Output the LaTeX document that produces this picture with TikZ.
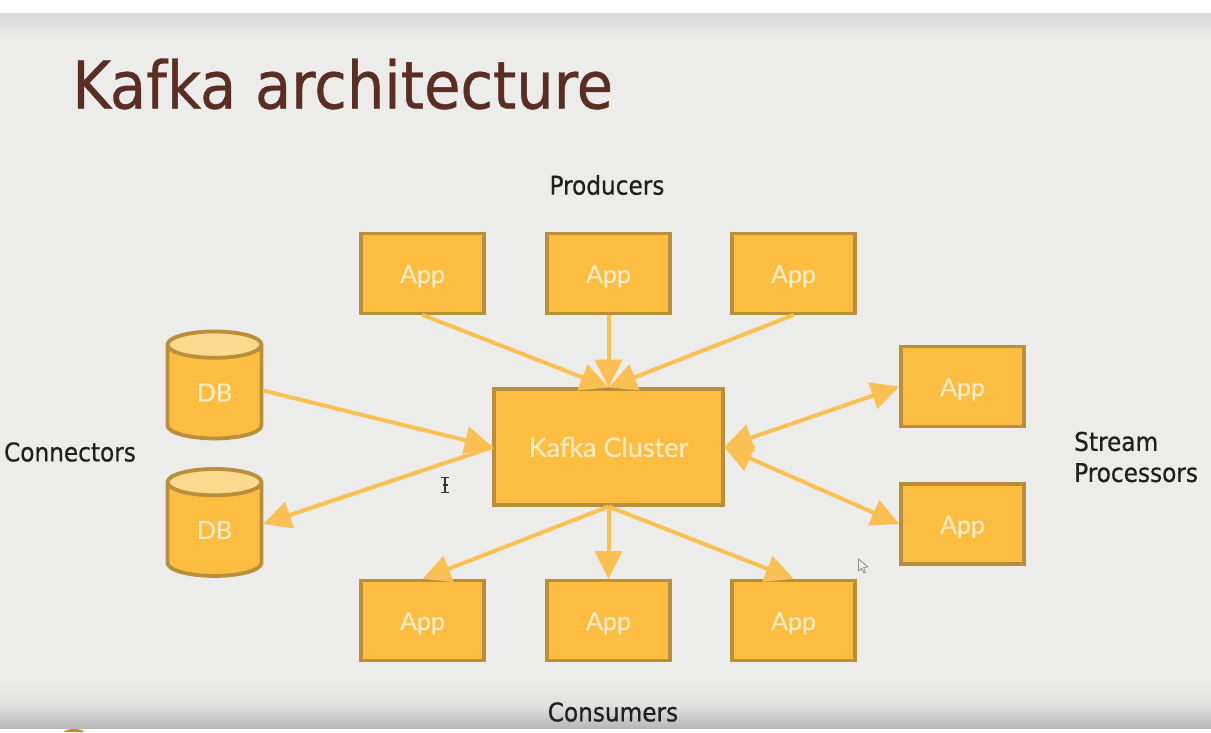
\documentclass[tikz,border=0pt]{standalone}
\usepackage{fontspec}
\setmainfont[FakeBold=0.6]{DejaVu Sans Condensed}
\newfontfamily\boxfont[FakeBold=0.6]{Lato}
\usetikzlibrary{arrows.meta,shapes.geometric}
\definecolor{bgc}{HTML}{ECECEA}
\definecolor{boxfill}{HTML}{FDBD41}
\definecolor{boxline}{HTML}{B98F3B}
\definecolor{arrowc}{HTML}{FAC052}
\definecolor{boxtext}{HTML}{FBEBC4}
\definecolor{topfill}{HTML}{FCD98C}
\definecolor{titlec}{HTML}{5A2E22}
\tikzset{
  appbox/.style={draw=boxline,fill=boxfill,line width=3.8pt,minimum width=123.5pt,minimum height=80pt,outer sep=1.5pt,inner sep=0pt,text=boxtext,font=\boxfont\fontsize{25}{28}\selectfont},
  clusterbox/.style={appbox,minimum width=228.5pt,minimum height=116pt,font=\boxfont\fontsize{27}{30}\selectfont},
  dbnode/.style={cylinder,shape border rotate=90,aspect=0.75,draw=boxline,line width=3.8pt,cylinder uses custom fill,cylinder body fill=boxfill,cylinder end fill=topfill,minimum width=94pt,minimum height=107pt,outer sep=1.5pt,inner sep=0pt,text=boxtext,font=\boxfont\fontsize{25}{28}\selectfont},
  lbl/.style={text=black!88,font=\fontsize{25.8}{31}\selectfont,inner sep=0pt},
  flow/.style={draw=arrowc,line width=4pt,-{Triangle[length=28pt,width=27pt]}},
  flowboth/.style={draw=arrowc,line width=4pt,{Triangle[length=28pt,width=27pt]}-{Triangle[length=28pt,width=27pt]}}
}
\newcommand{\lowtext}[1]{\raisebox{-9.5pt}[0pt][0pt]{#1}}
\begin{document}
\begin{tikzpicture}[x=1pt,y=-1pt]
\useasboundingbox (0,0) rectangle (1211,732);
\fill[white] (0,0) rectangle (1211,732);
\fill[top color=black!15,bottom color=bgc] (0,13) rectangle (1211,38);
\fill[bgc] (0,38) rectangle (1211,680);
\fill[top color=bgc,bottom color=black!12] (0,680) rectangle (1211,706);
\fill[top color=black!12,bottom color=black!28] (0,706) rectangle (1211,728);
\fill[boxline] (64,732) arc[start angle=180,end angle=0,x radius=10pt,y radius=3pt] -- cycle;

\node[anchor=west,inner sep=0pt,text=titlec,font=\fontsize{65.8}{70}\selectfont] (title) at (72,84) {Kafka architecture};

\node[lbl] (producers) at (607,185) {Producers};
\node[lbl] (connectors) at (70,452) {Connectors};
\node[lbl] (consumers) at (613,712) {Consumers};
\node[lbl,anchor=west,align=left] (stream) at (1074,457) {Stream\\Processors};

\node[appbox] (p1) at (422.5,273.5) {\lowtext{App}};
\node[appbox] (p2) at (608.5,273.5) {\lowtext{App}};
\node[appbox] (p3) at (793.5,273.5) {\lowtext{App}};
\node[appbox] (c1) at (422.5,620.5) {\lowtext{App}};
\node[appbox] (c2) at (608.5,620.5) {\lowtext{App}};
\node[appbox] (c3) at (793.5,620.5) {\lowtext{App}};
\node[appbox] (s1) at (962.5,386.5) {\lowtext{App}};
\node[appbox] (s2) at (962.5,524) {\lowtext{App}};
\node[clusterbox] (kafka) at (608.5,447) {Kafka Cluster};
\node[dbnode] (db1) at (214.5,392.5) {DB};
\node[dbnode] (db2) at (214.5,530) {DB};
\coordinate (db1out) at ([yshift=2pt]db1.east);
\coordinate (db2in) at ([yshift=6pt]db2.east);

\draw[flow] (p1.south) -- (kafka.north);
\draw[flow] (p2.south) -- (kafka.north);
\draw[flow] (p3.south) -- (kafka.north);
\draw[flow] (kafka.south) -- (c1.north);
\draw[flow] (kafka.south) -- (c2.north);
\draw[flow] (kafka.south) -- (c3.north);
\draw[flow] (db1out) -- (kafka.west);
\draw[flow] (kafka.west) -- (db2in);
\draw[flowboth] (kafka.east) -- (s1.west);
\draw[flowboth] (kafka.east) -- (s2.west);

% text cursor
\draw[black!80,line width=1.3pt] (441,477.5) -- (449,477.5) (445,477.5) -- (445,492.5) (441,492.5) -- (449,492.5) (442.5,485) -- (447.5,485);
% mouse pointer
\draw[black!45,fill=bgc,line width=0.8pt,line join=round] (858.5,559) -- (858.5,571) -- (861.5,568.5) -- (864,573) -- (865.5,572) -- (863.5,567.5) -- (868,567) -- cycle;
\end{tikzpicture}
\end{document}
